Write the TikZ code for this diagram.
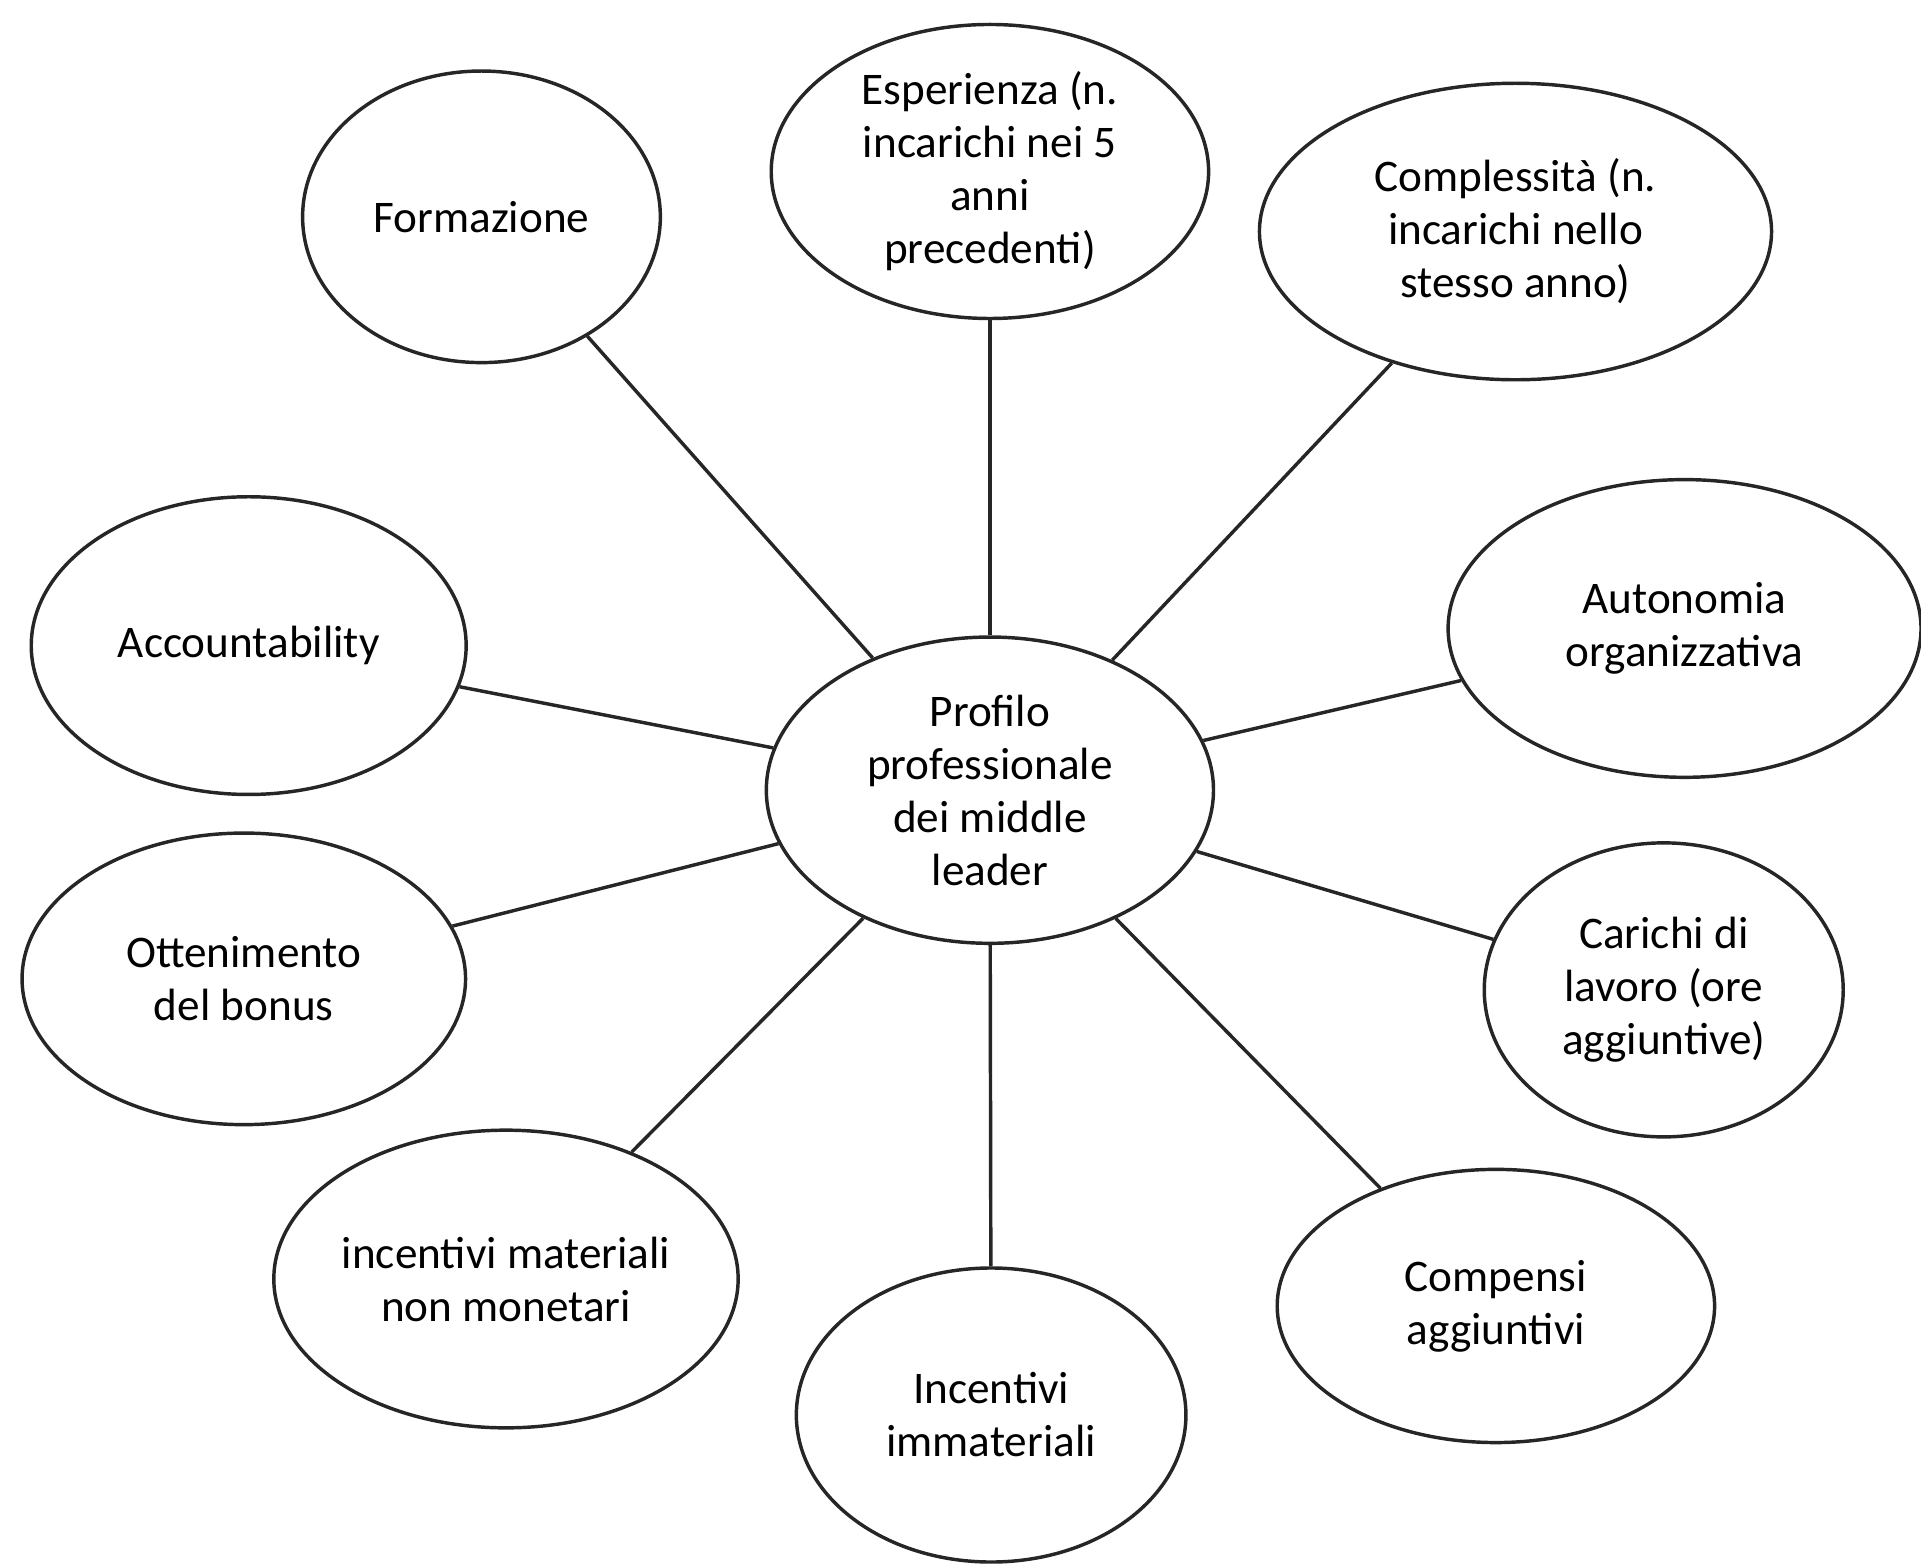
\documentclass[tikz,border=0pt]{standalone}
\usepackage{fontspec}
\setmainfont{Carlito}
\usepackage{tikz}
\usetikzlibrary{shapes.geometric}

\tikzset{
    bubble/.style={ellipse, draw=black!85, line width=0.8pt, inner sep=0pt,
        align=center, font=\fontsize{10.5}{12.3}\selectfont},
    spoke/.style={draw=black!85, line width=0.8pt}
}

\begin{document}
\begin{tikzpicture}
    \useasboundingbox (0,0) rectangle (15.68,12.77);

    % Central profile
    \node[bubble, minimum width=3.65cm, minimum height=2.50cm] (profilo) at (8.08,6.32)
        {Profilo\\professionale\\dei middle\\leader};

    \foreach \name/\x/\y/\w/\h/\txt in {
        formazione/3.93/11.00/2.92/2.38/{Formazione},
        esperienza/8.08/11.37/3.57/2.40/{Esperienza (n.\\incarichi nei 5\\anni\\precedenti)},
        complessita/12.37/10.88/4.18/2.42/{Complessità (n.\\incarichi nello\\stesso anno)},
        autonomia/13.75/7.64/3.86/2.43/{Autonomia\\organizzativa},
        carichi/13.58/4.69/2.93/2.40/{Carichi di\\lavoro (ore\\aggiuntive)},
        compensi/12.21/2.11/3.57/2.23/{Compensi\\aggiuntivi},
        immateriali/8.09/1.22/3.18/2.40/{Incentivi\\immateriali},
        materiali/4.13/2.33/3.74/2.43/{incentivi materiali\\non monetari},
        bonus/1.99/4.78/3.62/2.38/{Ottenimento\\del bonus},
        accountability/2.03/7.50/3.55/2.43/{Accountability}} {
        % Outer ellipse
        \node[bubble, minimum width=\w cm, minimum height=\h cm] (\name) at (\x,\y) {\txt};
        % Line to the centre
        \draw[spoke] (profilo) -- (\name);
    }
\end{tikzpicture}
\end{document}
